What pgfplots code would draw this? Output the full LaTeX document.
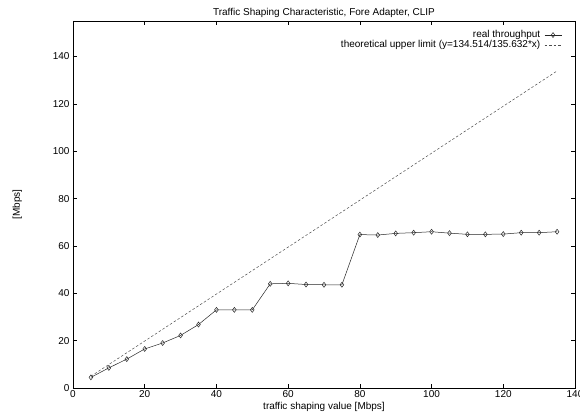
\documentclass[border=0pt]{standalone}
\usepackage{fontspec}
\setmainfont{Liberation Sans}
\usepackage{pgfplots}
\pgfplotsset{compat=1.18}
\usetikzlibrary{calc}
\begin{document}
\fontsize{10bp}{12bp}\selectfont
\begin{tikzpicture}
\begin{axis}[
  scale only axis,
  width=502bp, height=367bp,
  xmin=0, xmax=140, ymin=0, ymax=155,
  xtick={0,20,...,140}, ytick={0,20,...,140},
  tick align=inside,
  major tick length=4bp,
  tick style={black, line width=0.5pt},
  axis line style={black, line width=0.6pt},
  /pgf/number format/assume math mode=true,
  ticklabel style={font=\fontsize{10bp}{12bp}\selectfont},
  xticklabel style={yshift=1bp},
  title={Traffic Shaping Characteristic, Fore Adapter, CLIP},
  title style={yshift=-6bp, font=\fontsize{10bp}{12bp}\selectfont},
  xlabel={traffic shaping value [Mbps]},
  ylabel={[Mbps]},
  label style={font=\fontsize{10bp}{12bp}\selectfont},
  xlabel style={yshift=2bp},
  ylabel style={yshift=24bp},
  legend style={draw=none, fill=none, at={(0.98,0.985)}, anchor=north east,
    font=\fontsize{10bp}{12bp}\selectfont, row sep=-3bp,
    nodes={inner xsep=4bp}},
  legend cell align=right,
  legend plot pos=right,
]
\addplot[black!85, line width=0.5pt, mark=diamond, mark size=2.5pt, mark options={solid, fill=white}] coordinates {
(5,4.5) (10,8.5) (15,12.2) (20,16.5) (25,19.0) (30,22.2) (35,26.8)
(40,33.0) (45,33.0) (50,33.0) (55,44.0) (60,44.2) (65,43.7) (70,43.6)
(75,43.6) (80,64.8) (85,64.6) (90,65.3) (95,65.6) (100,66.0) (105,65.4)
(110,64.9) (115,64.9) (120,65.0) (125,65.6) (130,65.6) (135,66.0)
};
\addlegendentry{real throughput}
\addplot[black!70, line width=0.5pt, dash pattern=on 2.5bp off 2bp] coordinates {
(5,4.96) (25,24.79) (45,44.63) (65,64.46) (85,84.30) (105,104.13) (125,123.97) (135,133.89)
};
\addlegendentry{theoretical upper limit (y=134.514/135.632*x)}
\end{axis}
\pgfresetboundingbox
\path ($(current axis.south west)+(-73bp,-30bp)$) rectangle ($(current axis.north east)+(5bp,21bp)$);
\end{tikzpicture}
\end{document}
